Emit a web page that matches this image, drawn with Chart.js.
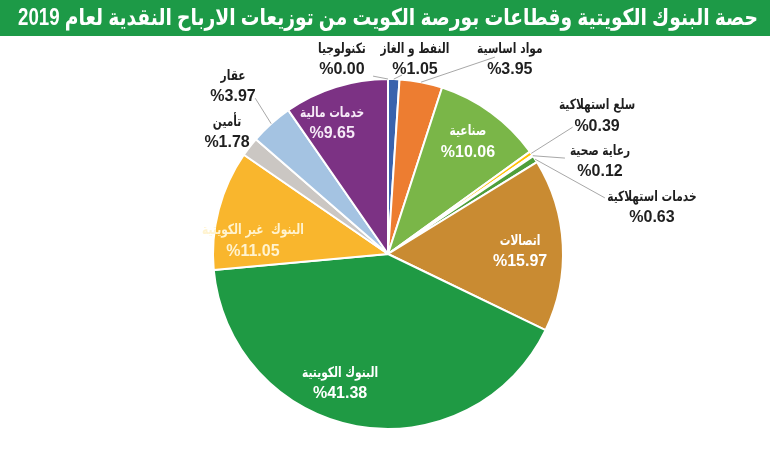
<!DOCTYPE html>
<html>
<head>
<meta charset="utf-8">
<script src="https://cdn.jsdelivr.net/npm/chart.js@4.4.1/dist/chart.umd.min.js"></script>
<style>
html,body{margin:0;padding:0;background:#fff;}
#wrap{width:770px;height:462px;position:relative;}
</style>
</head>
<body>
<div id="wrap"><canvas id="c" width="770" height="462"></canvas></div>
<script>
const titleText = 'حصة البنوك الكويتية وقطاعات بورصة الكويت من توزيعات الارباح النقدية لعام 2019';
const sectors = ['تكنولوجيا','النفط و الغاز','مواد اساسية','صناعية','سلع استهلاكية','رعاية صحية','خدمات استهلاكية','اتصالات','البنوك الكويتية','البنوك  غير الكويتية','تأمين','عقار','خدمات مالية'];
const shares = [0.00, 1.05, 3.95, 10.06, 0.39, 0.12, 0.63, 15.97, 41.38, 11.05, 1.78, 3.97, 9.65];
const sliceColors = ['#3a63ad','#3a63ad','#ed7d31','#7ab648','#ffc000','#f2dca0','#4e9e3a','#c98b32','#1f9a44','#f9b62d','#cbc7c3','#a4c3e2','#7c3284'];
const labelColors = ['#1f1f1f','#1f1f1f','#1f1f1f','#ffffff','#1f1f1f','#1f1f1f','#1f1f1f','#ffffff','#ffffff','#fff3cf','#1f1f1f','#1f1f1f','#f6eaf7'];
// label block placement: [radius factor, angle shift in degrees from slice mid-angle]
const labelPlace = [[1.145,-13.3],[1.125,6.0],[1.314,21.1],[0.79,-0.8],[1.434,1.5],[1.323,10.5],[1.532,22.7],[0.755,1.6],[0.786,10.1],[0.776,-8.8],[1.154,-0.6],[1.306,-0.8],[0.814,-5.7]];
// leader line end: [radius factor, angle shift] or null
const leaderEnd = [[1.02,-4.8],[1.026,2.6],[1.28,17.6],null,[1.28,0.6],[1.15,5.7],[1.28,18.3],null,null,null,null,[1.17,1.45],null];

const titleBar = {
  id:'titleBar',
  beforeDraw(chart){
    const ctx = chart.ctx;
    ctx.save();
    ctx.fillStyle = '#ffffff';
    ctx.fillRect(0,0,chart.width,chart.height);
    ctx.fillStyle = '#1d9a47';
    ctx.fillRect(0,0,chart.width,36);
    ctx.fillStyle = '#ffffff';
    ctx.font = 'bold 23px "Liberation Sans", Arial, "DejaVu Sans", sans-serif';
    ctx.textAlign = 'center';
    ctx.textBaseline = 'middle';
    ctx.direction = 'rtl';
    const w = ctx.measureText(titleText).width;
    const target = 740;
    ctx.translate(388, 19);
    ctx.scale(Math.min(1, target / w) , 1);
    ctx.fillText(titleText, 0, 0);
    ctx.restore();
  }
};

const sliceLabels = {
  id:'sliceLabels',
  afterDatasetsDraw(chart){
    const ctx = chart.ctx;
    const meta = chart.getDatasetMeta(0);
    ctx.save();
    meta.data.forEach((arc, i) => {
      const p = arc.getProps(['x','y','startAngle','endAngle','outerRadius'], true);
      const mid = (p.startAngle + p.endAngle) / 2;
      const R = p.outerRadius;
      const pol = (f, shiftDeg) => {
        const a = mid + shiftDeg * Math.PI / 180;
        return [p.x + Math.cos(a) * R * f, p.y + Math.sin(a) * R * f];
      };
      if (leaderEnd[i]) {
        const s = [p.x + Math.cos(mid) * R, p.y + Math.sin(mid) * R];
        const e = pol(leaderEnd[i][0], leaderEnd[i][1]);
        ctx.strokeStyle = '#a8a8a8';
        ctx.lineWidth = 1;
        ctx.beginPath();
        ctx.moveTo(s[0], s[1]);
        ctx.lineTo(e[0], e[1]);
        ctx.stroke();
      }
      const c = pol(labelPlace[i][0], labelPlace[i][1]);
      ctx.fillStyle = labelColors[i];
      ctx.textAlign = 'center';
      ctx.textBaseline = 'middle';
      ctx.save();
      ctx.font = 'bold 14px "DejaVu Sans", sans-serif';
      ctx.direction = 'rtl';
      ctx.translate(c[0], c[1] - 10);
      ctx.scale(0.76, 1);
      ctx.fillText(sectors[i], 0, 0);
      ctx.restore();
      ctx.direction = 'ltr';
      ctx.font = 'bold 16px "Liberation Sans", Arial, sans-serif';
      ctx.fillText('%' + shares[i].toFixed(2), c[0], c[1] + 11);
    });
    ctx.restore();
  }
};

new Chart(document.getElementById('c'), {
  type: 'pie',
  data: {
    labels: sectors,
    datasets: [{
      data: shares,
      backgroundColor: sliceColors,
      borderColor: '#ffffff',
      borderWidth: 2,
      radius: 175
    }]
  },
  options: {
    responsive: false,
    animation: false,
    layout: { padding: { top: 60, bottom: 14, left: 6, right: 0 } },
    plugins: {
      legend: { display: false },
      title: { display: false },
      tooltip: { enabled: false }
    }
  },
  plugins: [titleBar, sliceLabels]
});
</script>
</body>
</html>
